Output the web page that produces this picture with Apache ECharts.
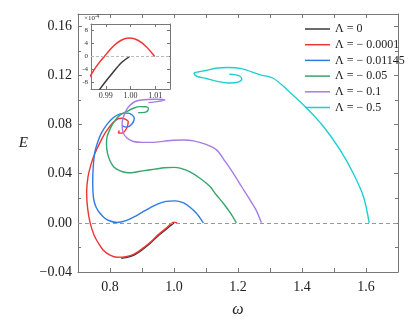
<!DOCTYPE html>
<html>
<head>
<meta charset="utf-8">
<script src="https://cdn.jsdelivr.net/npm/echarts@6/dist/echarts.min.js"></script>
<style>
  html, body { margin: 0; padding: 0; background: #fff; }
  #main { width: 415px; height: 329px; }
</style>
</head>
<body>
<div id="main"></div>
<script>
// legend names
const names = ['Λ = 0', 'Λ = − 0.0001', 'Λ = − 0.01145', 'Λ = − 0.05', 'Λ = − 0.1', 'Λ = − 0.5'];

// [omega, E], each starting at the E = 0 end
const lam0 = [[1.0, 0], [0.975, -0.0053], [0.95, -0.0106], [0.925, -0.0168], [0.9, -0.022],
  [0.875, -0.0263], [0.85, -0.0283], [0.835, -0.0288]];
const lam0001 = [[1.0098, 0], [1.0, 0.0006], [0.975, -0.0045], [0.95, -0.0098], [0.925, -0.016],
  [0.9, -0.0212], [0.875, -0.0255], [0.85, -0.0275], [0.822, -0.028], [0.8, -0.0262],
  [0.78, -0.0225], [0.765, -0.017], [0.75, -0.0098], [0.738, 0], [0.73, 0.012], [0.727, 0.025],
  [0.731, 0.037], [0.74, 0.047], [0.752, 0.056], [0.769, 0.0655], [0.787, 0.074], [0.809, 0.0814],
  [0.826, 0.0848], [0.8366, 0.0852], [0.857, 0.0824], [0.852, 0.077], [0.8366, 0.073],
  [0.826, 0.073], [0.829, 0.0751]];
const lam01145 = [[1.0917, 0], [1.08, 0.0045], [1.07, 0.0079], [1.05, 0.0127], [1.03, 0.0162],
  [1.003, 0.0179], [0.975, 0.0175], [0.95, 0.0155], [0.925, 0.0122], [0.9, 0.0085],
  [0.875, 0.0048], [0.85, 0.0018], [0.823, 0.0003], [0.8, 0.0015], [0.783, 0.004],
  [0.768, 0.008], [0.757, 0.0125], [0.75, 0.018], [0.747, 0.0242], [0.746, 0.033],
  [0.747, 0.043], [0.752, 0.0567], [0.762, 0.066], [0.773, 0.073], [0.79, 0.08], [0.81, 0.0856],
  [0.83, 0.0885], [0.857, 0.0893], [0.876, 0.0852], [0.868, 0.0803], [0.852, 0.0779],
  [0.837, 0.0792]];
const lam05 = [[1.195, 0], [1.175, 0.0085], [1.154, 0.016], [1.13, 0.0235], [1.1125, 0.0296],
  [1.08, 0.0365], [1.05, 0.0415], [1.019, 0.0445], [1.0, 0.0452], [0.97, 0.0448],
  [0.94, 0.0437], [0.915, 0.0428], [0.89, 0.0418], [0.867, 0.0408], [0.85, 0.041],
  [0.83, 0.0425], [0.812, 0.0455], [0.8, 0.0505], [0.792, 0.057], [0.789, 0.064],
  [0.791, 0.0702], [0.799, 0.0757], [0.81, 0.0811], [0.83, 0.0875], [0.852, 0.0906],
  [0.875, 0.0935], [0.894, 0.0946], [0.912, 0.0945], [0.92, 0.0933], [0.915, 0.0905],
  [0.9, 0.0897], [0.888, 0.0897]];
const lam1 = [[1.273, 0], [1.2575, 0.01], [1.2375, 0.0187], [1.21, 0.03], [1.185, 0.0404],
  [1.16, 0.05], [1.133, 0.0594], [1.1, 0.0638], [1.065, 0.0665], [1.03, 0.0674], [1.0, 0.0672],
  [0.97, 0.0665], [0.935, 0.0655], [0.9, 0.0655], [0.873, 0.0662], [0.852, 0.0692],
  [0.84, 0.0745], [0.838, 0.0815], [0.845, 0.0885], [0.858, 0.0945], [0.883, 0.0992],
  [0.935, 0.1006], [0.972, 0.1001], [0.946, 0.0987], [0.92, 0.0979]];
const lam5 = [[1.61, 0], [1.592, 0.0214], [1.56, 0.0404], [1.519, 0.0594], [1.467, 0.0784],
  [1.415, 0.0933], [1.355, 0.108], [1.31, 0.1177], [1.27, 0.1205], [1.21, 0.1255],
  [1.17, 0.1265], [1.13, 0.1258], [1.1, 0.124], [1.075, 0.1228], [1.0625, 0.1218],
  [1.07, 0.1195], [1.1, 0.1175], [1.14, 0.115], [1.175, 0.1138], [1.2, 0.1145],
  [1.212, 0.1168], [1.205, 0.1195], [1.19, 0.1207], [1.173, 0.121]];

// inset, E in units of 1e-4
const insetLam0 = [[0.9996, 0], [0.9962, -2.0], [0.9928, -5.0], [0.9881, -9.5], [0.986, -12]];
const insetLam0001 = [[1.0098, 0], [1.0064, 3.0], [1.003, 5.0], [0.9996, 5.7], [0.9962, 5.0],
  [0.9928, 3.0], [0.9894, 0], [0.9867, -2.5], [0.9841, -5.5], [0.982, -8]];

const insetTicksX = [0.99, 1.0, 1.01];
const insetTicksY = [-8, -4, 0, 4, 8];

const colors = ['#3a3a3a', '#f03434', '#2f7be0', '#38a56c', '#a77ce6', '#1fcfd0'];
const serif = 'Liberation Serif';
const axisColor = '#777';

function fmt (v, d) {
  return (v < 0 ? '−' : '') + Math.abs(v).toFixed(d);
}

function frameAxis (extra) {
  return Object.assign({
    type: 'value',
    axisLine: { show: true, onZero: false, lineStyle: { color: axisColor, width: 1 } },
    axisTick: { show: true, inside: true, length: 4, lineStyle: { color: axisColor } },
    splitLine: { show: false },
    axisLabel: { show: false }
  }, extra);
}

let curves = [lam0, lam0001, lam01145, lam05, lam1, lam5];
let series = curves.map((c, i) => ({
  name: names[i],
  type: 'line',
  data: c,
  xAxisIndex: 0,
  yAxisIndex: 0,
  showSymbol: false,
  smooth: 0.3,
  color: colors[i],
  lineStyle: { width: 1.4 },
  z: 3
}));
series[0].markLine = {
  silent: true,
  symbol: 'none',
  label: { show: false },
  lineStyle: { color: '#999', type: [4, 3], width: 1 },
  data: [{ yAxis: 0 }]
};
series.push({
  name: names[0], type: 'line', data: insetLam0, xAxisIndex: 2, yAxisIndex: 2,
  showSymbol: false, smooth: 0.3, color: colors[0], lineStyle: { width: 1.5 }, z: 4,
  markLine: {
    silent: true, symbol: 'none', label: { show: false },
    lineStyle: { color: '#bbb', type: [3, 2], width: 1 }, data: [{ yAxis: 0 }]
  }
});
series.push({
  name: names[1], type: 'line', data: insetLam0001, xAxisIndex: 2, yAxisIndex: 2,
  showSymbol: false, smooth: 0.3, color: colors[1], lineStyle: { width: 1.5 }, z: 4
});

let option = {
  animation: false,
  backgroundColor: '#fff',
  grid: [
    { left: 78, top: 14, right: 17, bottom: 57 },
    { left: 91, top: 24, width: 79, height: 65 }
  ],
  legend: {
    data: names,
    orient: 'vertical',
    left: 300,
    top: 18,
    itemWidth: 25,
    itemHeight: 1.5,
    itemGap: 3.7,
    icon: 'rect',
    textStyle: { fontFamily: serif, fontSize: 12, color: '#222', lineHeight: 12 }
  },
  xAxis: [
    frameAxis({
      gridIndex: 0, position: 'bottom', min: 0.7, max: 1.7, interval: 0.1,
      name: 'ω', nameLocation: 'middle', nameGap: 30,
      nameTextStyle: { fontFamily: serif, fontStyle: 'italic', fontSize: 16, color: '#222' },
      axisLabel: {
        show: true, margin: 8, fontFamily: serif, fontSize: 14, color: '#222',
        formatter: v => (Math.round(v * 10) % 2 === 0 ? v.toFixed(1) : '')
      }
    }),
    frameAxis({ gridIndex: 0, position: 'top', min: 0.7, max: 1.7, interval: 0.1 }),
    frameAxis({
      gridIndex: 1, position: 'bottom', min: 0.984, max: 1.016,
      axisTick: { show: true, inside: true, length: 3, customValues: insetTicksX, lineStyle: { color: axisColor } },
      axisLabel: {
        show: true, margin: 3, fontFamily: serif, fontSize: 8, color: '#333',
        customValues: insetTicksX, formatter: v => v.toFixed(2)
      }
    }),
    frameAxis({
      gridIndex: 1, position: 'top', min: 0.984, max: 1.016,
      axisTick: { show: true, inside: true, length: 3, customValues: insetTicksX, lineStyle: { color: axisColor } }
    })
  ],
  yAxis: [
    frameAxis({
      gridIndex: 0, position: 'left', min: -0.04, max: 0.17, interval: 0.04,
      minorTick: { show: true, splitNumber: 2, length: 3, lineStyle: { color: axisColor } },
      name: 'E', nameLocation: 'middle', nameGap: 50, nameRotate: 0,
      nameTextStyle: { fontFamily: serif, fontStyle: 'italic', fontSize: 15, color: '#222' },
      axisLabel: {
        show: true, margin: 6, fontFamily: serif, fontSize: 14, color: '#222',
        formatter: v => (v > 0.165 ? '' : fmt(v, 2))
      }
    }),
    frameAxis({
      gridIndex: 0, position: 'right', min: -0.04, max: 0.17, interval: 0.04,
      minorTick: { show: true, splitNumber: 2, length: 3, lineStyle: { color: axisColor } }
    }),
    frameAxis({
      gridIndex: 1, position: 'left', min: -10, max: 10,
      axisTick: { show: true, inside: true, length: 3, customValues: insetTicksY, lineStyle: { color: axisColor } },
      axisLabel: {
        show: true, margin: 3, fontFamily: serif, fontSize: 7, color: '#333',
        customValues: insetTicksY, formatter: v => (v < 0 ? '-' : '') + Math.abs(v)
      }
    }),
    frameAxis({
      gridIndex: 1, position: 'right', min: -10, max: 10,
      axisTick: { show: true, inside: true, length: 3, customValues: insetTicksY, lineStyle: { color: axisColor } }
    })
  ],
  graphic: [{
    type: 'text',
    left: 84,
    top: 14,
    z: 10,
    style: {
      text: '×10{s|-4}',
      fontFamily: serif,
      fontSize: 7,
      fill: '#333',
      rich: { s: { fontSize: 5, verticalAlign: 'top', padding: [0, 0, 4, 0] } }
    }
  }],
  series: series
};

let chart = echarts.init(document.getElementById('main'));
chart.setOption(option);
</script>
</body>
</html>
